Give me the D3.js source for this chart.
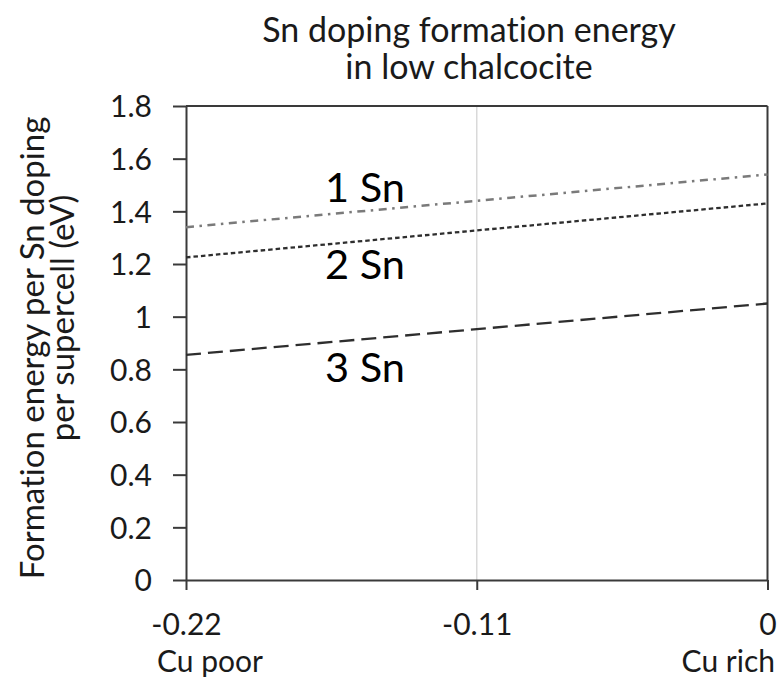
<!DOCTYPE html>
<html>
<head>
<meta charset="utf-8">
<script src="https://cdn.jsdelivr.net/npm/d3@7"></script>
<style>
  html, body { margin: 0; padding: 0; background: #ffffff; }
  svg { display: block; font-family: Lato, "Open Sans", sans-serif; }
  svg text { font-variant-ligatures: none; font-feature-settings: "liga" 0, "clig" 0; }
</style>
</head>
<body>
<svg id="chart" width="777" height="680"></svg>
<script>
// Copper chemical potential relative to Cu-rich limit (eV)
const chemPotential = [-0.22, 0];

// Formation energy per Sn dopant, per supercell (eV)
const oneSn = [1.34, 1.54];
const twoSn = [1.225, 1.43];
const threeSn = [0.855, 1.05];

const seriesNames = ["1 Sn", "2 Sn", "3 Sn"];

const xTicks = [-0.22, -0.11, 0];
const xTickLabels = ["-0.22", "-0.11", "0"];
const yTicks = [0, 0.2, 0.4, 0.6, 0.8, 1.0, 1.2, 1.4, 1.6, 1.8];
const yTickLabels = ["0", "0.2", "0.4", "0.6", "0.8", "1", "1.2", "1.4", "1.6", "1.8"];

const titleLines = ["Sn doping formation energy", "in low chalcocite"];
const yTitleLines = ["Formation energy per Sn doping", "per supercell (eV)"];
const xEndLabels = ["Cu poor", "Cu rich"];

const svg = d3.select("#chart");
const plot = { left: 186, right: 767.5, top: 106, bottom: 580 };
const axisColor = "#3a3a3a";
const textColor = "#1a1a1a";
const tickFont = 30;

const x = d3.scaleLinear().domain([-0.22, 0]).range([plot.left, plot.right]);
const y = d3.scaleLinear().domain([0, 1.8]).range([plot.bottom, plot.top]);

// vertical gridline at the middle tick
svg.append("g")
  .selectAll("line")
  .data(xTicks.filter(t => t !== xTicks[0] && t !== xTicks[xTicks.length - 1]))
  .join("line")
  .attr("x1", d => x(d)).attr("x2", d => x(d))
  .attr("y1", y(1.8)).attr("y2", y(0))
  .attr("stroke", "#d9d9d9").attr("stroke-width", 1.5);

// frame: top and right edges
svg.append("line")
  .attr("x1", x(-0.22)).attr("x2", x(0)).attr("y1", y(1.8)).attr("y2", y(1.8))
  .attr("stroke", axisColor).attr("stroke-width", 2);
svg.append("line")
  .attr("x1", x(0)).attr("x2", x(0)).attr("y1", y(1.8)).attr("y2", y(0))
  .attr("stroke", axisColor).attr("stroke-width", 2);

// y axis
const yAxis = svg.append("g")
  .attr("transform", `translate(${plot.left},0)`)
  .call(d3.axisLeft(y).tickValues(yTicks)
    .tickFormat((d, i) => yTickLabels[i])
    .tickSize(13).tickSizeOuter(0).tickPadding(21));
yAxis.select(".domain").attr("stroke", axisColor).attr("stroke-width", 2);
yAxis.selectAll(".tick line").attr("stroke", axisColor).attr("stroke-width", 2);
yAxis.selectAll(".tick text")
  .attr("font-size", tickFont).attr("fill", textColor).attr("dy", "0.36em")
  .attr("font-family", "Lato, sans-serif");

// x axis
const xAxis = svg.append("g")
  .attr("transform", `translate(0,${plot.bottom})`)
  .call(d3.axisBottom(x).tickValues(xTicks)
    .tickFormat((d, i) => xTickLabels[i])
    .tickSize(10).tickSizeOuter(0).tickPadding(0));
xAxis.select(".domain").attr("stroke", axisColor).attr("stroke-width", 2);
xAxis.selectAll(".tick line").attr("stroke", axisColor).attr("stroke-width", 2);
xAxis.selectAll(".tick text")
  .attr("y", 55).attr("dy", 0)
  .attr("font-size", tickFont).attr("fill", textColor)
  .attr("font-family", "Lato, sans-serif");

// end labels under the x axis
svg.append("text")
  .attr("x", 157).attr("y", 672)
  .attr("font-size", tickFont).attr("fill", textColor)
  .text(xEndLabels[0]);
svg.append("text")
  .attr("x", 775).attr("y", 672).attr("text-anchor", "end")
  .attr("font-size", tickFont).attr("fill", textColor)
  .text(xEndLabels[1]);

// series lines
const series = [
  { name: seriesNames[0], values: oneSn, color: "#7a7a7a", dash: "8,5.5,2.5,5.5", width: 2.5 },
  { name: seriesNames[1], values: twoSn, color: "#2e2e2e", dash: "4.5,3", width: 2.3 },
  { name: seriesNames[2], values: threeSn, color: "#2e2e2e", dash: "15,7", width: 2.3 }
];
const line = d3.line().x(d => x(d[0])).y(d => y(d[1]));
svg.append("g")
  .selectAll("path")
  .data(series)
  .join("path")
  .attr("d", s => line(chemPotential.map((c, i) => [c, s.values[i]])))
  .attr("fill", "none")
  .attr("stroke", s => s.color)
  .attr("stroke-width", s => s.width)
  .attr("stroke-dasharray", s => s.dash);

// series annotations
const labelBaselines = [202, 279, 382];
svg.append("g")
  .selectAll("text")
  .data(series)
  .join("text")
  .attr("x", 365)
  .attr("y", (s, i) => labelBaselines[i])
  .attr("text-anchor", "middle")
  .attr("font-size", 41.5)
  .attr("fill", "#000")
  .text(s => s.name);

// chart title
svg.append("g")
  .selectAll("text")
  .data(titleLines)
  .join("text")
  .attr("x", 469)
  .attr("y", (d, i) => 42 + i * 37)
  .attr("text-anchor", "middle")
  .attr("font-size", 34)
  .attr("fill", textColor)
  .text(d => d);

// y axis title, two rotated lines
const yTitleCenters = [348, 318];
svg.append("g")
  .selectAll("text")
  .data(yTitleLines)
  .join("text")
  .attr("transform", (d, i) => `translate(${44 + i * 30},${yTitleCenters[i]}) rotate(-90)`)
  .attr("text-anchor", "middle")
  .attr("font-size", 33)
  .attr("fill", textColor)
  .text(d => d);
</script>
</body>
</html>
